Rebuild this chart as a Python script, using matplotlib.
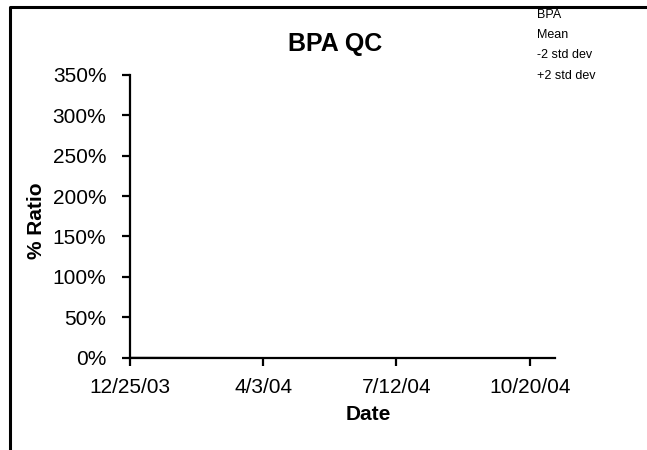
import matplotlib
matplotlib.use("Agg")
import matplotlib.pyplot as plt
import matplotlib.ticker as mticker
from matplotlib.lines import Line2D
import pandas as pd

plt.rcParams['font.family'] = ['Liberation Sans', 'DejaVu Sans']

# chart data
series_names = ["BPA", "Mean", "-2 std dev", "+2 std dev"]
bpa_dates = pd.to_datetime(["2003-12-25", "2004-11-08"])
bpa_ratio = [0.0, -0.008]
tick_dates = pd.to_datetime(["2003-12-25", "2004-04-03", "2004-07-12", "2004-10-20"])
tick_labels = ["12/25/03", "4/3/04", "7/12/04", "10/20/04"]
y_ticks = [0, 0.5, 1.0, 1.5, 2.0, 2.5, 3.0, 3.5]

fig = plt.figure(figsize=(6.47, 4.5), dpi=100)
ax = fig.add_axes([130 / 647, 1 - 357.5 / 450, 425 / 647, 282.5 / 450])

ax.plot(bpa_dates, bpa_ratio, color="black", lw=1.0, clip_on=False)

ax.set_xlim(bpa_dates[0], bpa_dates[-1])
ax.set_ylim(0, 3.5)
ax.set_xticks(tick_dates)
ax.set_xticklabels(tick_labels)
ax.set_yticks(y_ticks)
ax.yaxis.set_major_formatter(mticker.PercentFormatter(1.0, decimals=0))

for s in ["top", "right"]:
    ax.spines[s].set_visible(False)
for s in ["left", "bottom"]:
    ax.spines[s].set_linewidth(1.6)
ax.tick_params(axis="both", direction="out", length=6, width=1.6, labelsize=15)
ax.tick_params(axis="y", pad=11)
ax.tick_params(axis="x", pad=9)

ax.text(0.482, 1.11, "BPA QC", transform=ax.transAxes, ha="center", va="center",
        fontsize=18, fontweight="bold")
ax.set_xlabel("Date", fontsize=15, fontweight="bold", va="center")
ax.xaxis.set_label_coords(0.56, -0.2035)
ax.set_ylabel("% Ratio", fontsize=15, fontweight="bold", va="center")
ax.yaxis.set_label_coords(-0.221, 0.483)

handles = [Line2D([], [], lw=0) for _ in series_names]
fig.legend(handles, series_names, loc="upper left", bbox_to_anchor=(537 / 647, 1 - 9 / 450),
           frameon=False, fontsize=9, handlelength=0, handletextpad=0, labelspacing=0.66,
           borderpad=0, borderaxespad=0)

# outer frame (top and left edges only visible)
fig.add_artist(Line2D([10 / 647, 10 / 647, 1], [0, 1 - 7 / 450, 1 - 7 / 450],
                      transform=fig.transFigure, color="black", lw=2.2))

fig.savefig("out.png", dpi=100)
